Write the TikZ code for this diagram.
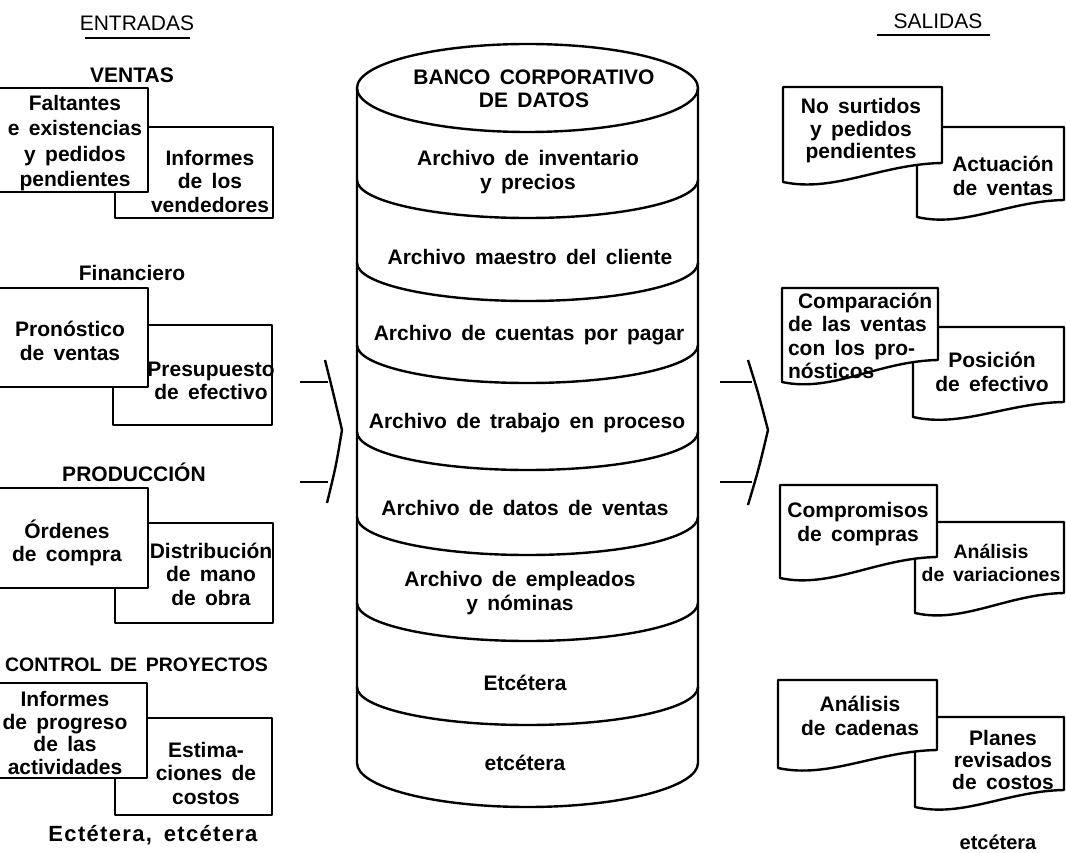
\documentclass[tikz,border=0pt]{standalone}
\usepackage{fontspec}
\setmainfont{Liberation Sans}[WordSpace=1.6]
% document-shaped sheet with a wavy lower edge: left, top, right, bottom at left, bottom at right
\newcommand\docsheet[5]{%
  \draw[card] (#1,#2) -- (#3,#2) -- (#3,#5)
    .. controls ({#1+0.62*(#3-#1)},{#5+1}) and ({#1+0.32*(#3-#1)},{#4+11}) .. (#1,#4) -- cycle;}
\begin{document}
\begin{tikzpicture}[x=1pt,y=-1pt,
  every node/.style={inner sep=0pt, outer sep=0pt},
  txt/.style={font=\fontsize{21}{23.5}\selectfont\bfseries, align=center},
  head/.style={font=\fontsize{21}{24}\selectfont, align=center},
  ink/.style={line width=2.4pt, line join=round},
  card/.style={ink, fill=white},
]
\fill[white] (0,0) rectangle (1066,853);
\useasboundingbox (0,0) rectangle (1066,853);

% ---------- column headings ----------
\node[head] (ent) at (137,23) {ENTRADAS};
\node[head] (sal) at (938,21) {SALIDAS};
\draw[line width=2pt] (85,38) -- (190,38);
\draw[line width=2pt] (877,35) -- (990,35);

% ---------- inputs ----------
\node[txt] (ventas) at (132,75) {VENTAS};
\draw[card] (115,127) rectangle (273,218);
\draw[card] (-4,88) rectangle (148,192);
\node[txt, font=\fontsize{21}{25.5}\selectfont\bfseries] (b1) at (75,143) {Faltantes\\e existencias\\y pedidos\\pendientes};
\node[txt] (b2) at (210,181) {Informes\\de los\\vendedores};

\node[txt] (fin) at (132,273) {Financiero};
\draw[card] (113,325) rectangle (272,425);
\draw[card] (-4,288) rectangle (148,387);
\node[txt] (b3) at (70,341) {Pronóstico\\de ventas};
\node[txt] (b4) at (211,381) {Presupuesto\\de efectivo};

\node[txt] (prod) at (134,472) {PRODUCCIÓN};
\draw[card] (115,523) rectangle (273,623);
\draw[card] (-4,488) rectangle (148,588);
\node[txt] (b5) at (67,543) {Órdenes\\de compra};
\node[txt] (b6) at (211,574) {Distribución\\de mano\\de obra};

\node[txt, font=\fontsize{19.5}{23}\selectfont\bfseries, anchor=east] (ctrl) at (268,665) {CONTROL DE PROYECTOS};
\draw[card] (115,718) rectangle (272,815);
\draw[card] (-4,683) rectangle (147,778);
\node[txt, font=\fontsize{21}{22.5}\selectfont\bfseries] (b7) at (65,733) {Informes\\de progreso\\de las\\actividades};
\node[txt] (b8) at (206,773) {Estima-\\ciones de\\costos};

\node[txt, font=\fontsize{22}{24}\selectfont\bfseries\addfontfeature{LetterSpace=6}] (etcL) at (153,835) {Ectétera, etcétera};

% ---------- flow brackets ----------
\coordinate (inA) at (300,382);
\coordinate (inB) at (300,482);
\coordinate (inJa) at (328,382);
\coordinate (inJb) at (328,482);
\draw[ink] (inA) -- (inJa);
\draw[ink] (inB) -- (inJb);
\draw[ink] (325,360) .. controls (333,392) .. (342,430) .. controls (336,466) .. (327,503);

\coordinate (outA) at (720,382);
\coordinate (outB) at (720,482);
\coordinate (outJa) at (752,382);
\coordinate (outJb) at (752,482);
\draw[ink] (outA) -- (outJa);
\draw[ink] (outB) -- (outJb);
\draw[ink] (748,360) .. controls (758,392) .. (768,430) .. controls (759,468) .. (748,505);

% ---------- data bank cylinder ----------
\draw[ink] (357,88) -- (357,763)
  .. controls (357,787) and (433.5,807) .. (527.5,807)
  .. controls (621.5,807) and (698,787) .. (698,763) -- (698,88);
\draw[ink] (527.5,88) ellipse [x radius=170.5, y radius=44];
\foreach \y in {180,263,345,432,517,603,687}
  \draw[ink] (357,\y) .. controls (357,\y+21) and (433.5,\y+38) .. (527.5,\y+38)
    .. controls (621.5,\y+38) and (698,\y+21) .. (698,\y);

\node[txt] (c0) at (534,89) {BANCO CORPORATIVO\\DE DATOS};
\node[txt] (c1) at (528,172) {Archivo de inventario\\y precios};
\node[txt] (c2) at (530,257) {Archivo maestro del cliente};
\node[txt] (c3) at (529,335) {Archivo de cuentas por pagar};
\node[txt] (c4) at (527,423) {Archivo de trabajo en proceso};
\node[txt] (c5) at (525,508) {Archivo de datos de ventas};
\node[txt] (c6) at (520,593) {Archivo de empleados\\y nóminas};
\node[txt] (c7) at (525,683) {Etcétera};
\node[txt] (c8) at (525,763) {etcétera};

% ---------- outputs ----------
\docsheet{917}{127}{1064}{217}{200}
\docsheet{783}{87}{942}{182}{163}
\node[txt, font=\fontsize{21}{22.5}\selectfont\bfseries] (d1) at (861,131) {No surtidos\\y pedidos\\pendientes};
\node[txt] (d2) at (1003,176) {Actuación\\de ventas};

\docsheet{913}{327}{1064}{417}{402}
\docsheet{782}{288}{938}{382}{360}
\node[txt, align=left, anchor=west] (d3) at (788,336) {\hspace{10pt}Comparación\\de las ventas\\con los pro-\\nósticos};
\node[txt] (d4) at (992,372) {Posición\\de efectivo};

\docsheet{915}{522}{1064}{613}{593}
\docsheet{780}{485}{937}{578}{557}
\node[txt] (d5) at (858,524) {Compromisos\\de compras};
\node[txt, font=\fontsize{19.5}{23.5}\selectfont\bfseries] (d6) at (991,563) {Análisis\\de variaciones};

\docsheet{915}{717}{1064}{807}{790}
\docsheet{778}{680}{937}{768}{750}
\node[txt] (d7) at (860,716) {Análisis\\de cadenas};
\node[txt, font=\fontsize{21}{22}\selectfont\bfseries] (d8) at (1003,760) {Planes\\revisados\\de costos};

\node[txt, font=\fontsize{20}{24}\selectfont\bfseries] (etcR) at (998,842) {etcétera};
\end{tikzpicture}
\end{document}
